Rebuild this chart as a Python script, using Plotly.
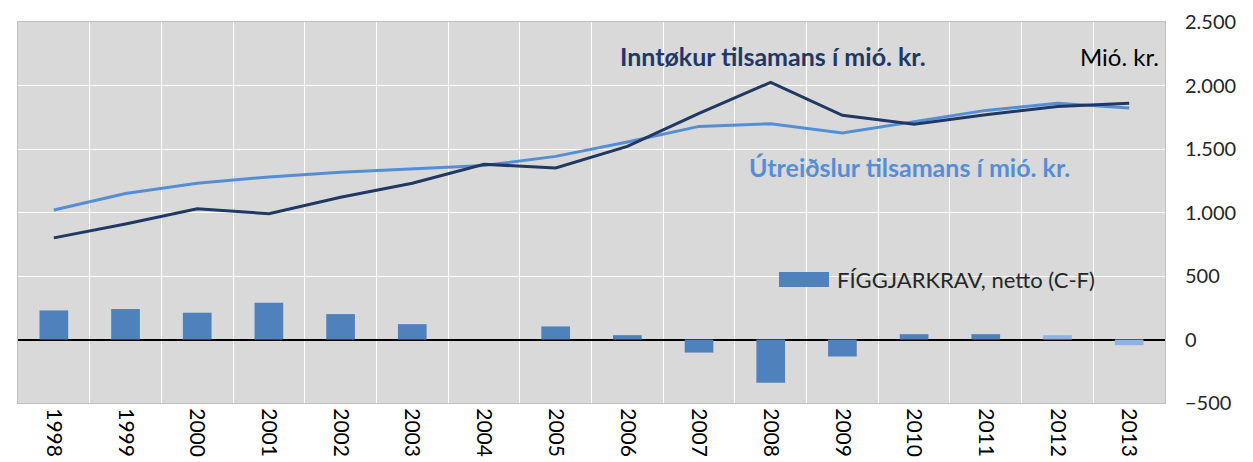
import plotly.graph_objects as go

years = [str(y) for y in range(1998, 2014)]
inntokur = [800, 910, 1030, 990, 1120, 1230, 1380, 1350, 1520, 1780, 2025, 1765, 1695, 1770, 1835, 1860]
utreidslur = [1020, 1150, 1230, 1280, 1317, 1343, 1370, 1442, 1555, 1678, 1699, 1626, 1717, 1804, 1860, 1822]
figgjarkrav = [229, 240, 211, 290, 200, 121, 0, 103, 34, -103, -340, -134, 42, 42, 34, -45]
bar_colors = ["#4f81bd"] * 14 + ["#8db3e2"] * 2

FONT = "Lato"
DARK = "#1f3864"
LIGHT = "#558ed5"

fig = go.Figure()
fig.add_trace(go.Bar(x=years, y=figgjarkrav, marker=dict(color=bar_colors, line=dict(width=0)),
                     width=0.4, showlegend=False, name="FÍGGJARKRAV, netto (C-F)"))
fig.add_trace(go.Scatter(x=years, y=utreidslur, mode="lines", line=dict(color=LIGHT, width=3),
                         showlegend=False, name="Útreiðslur tilsamans í mió. kr."))
fig.add_trace(go.Scatter(x=years, y=inntokur, mode="lines", line=dict(color=DARK, width=3),
                         showlegend=False, name="Inntøkur tilsamans í mió. kr."))

fig.update_layout(
    width=1253, height=462,
    margin=dict(l=18, r=88, t=22, b=59),
    paper_bgcolor="white", plot_bgcolor="#d9d9d9",
    separators=",.",
    font=dict(family=FONT, color="#404040"),
    xaxis=dict(type="category", tickson="boundaries", showgrid=True, gridcolor="white", gridwidth=1.2,
               ticks="", tickangle=90, tickfont=dict(size=21, color="#000000"), automargin=False,
               showline=True, linecolor="#c0c0c0", mirror=True, range=[-0.5, 15.5]),
    yaxis=dict(side="right", range=[-500, 2500], dtick=500, tickformat=",d", showgrid=True,
               gridcolor="white", gridwidth=1.2, zeroline=True, zerolinecolor="#000000", zerolinewidth=1.5,
               ticks="outside", ticklen=15, tickcolor="rgba(0,0,0,0)", tickfont=dict(size=20, color="#262626"),
               automargin=False, showline=True, linecolor="#c0c0c0", mirror=True),
    bargap=0.6,
)

fig.add_annotation(xref="paper", yref="paper", x=(773 - 18) / 1147, y=(403 - 56) / 381,
                   text="<b>Inntøkur tilsamans í mió. kr.</b>", showarrow=False,
                   font=dict(size=25, color=DARK, family=FONT), xanchor="center", yanchor="middle")
fig.add_annotation(xref="paper", yref="paper", x=(909 - 18) / 1147, y=(403 - 167) / 381,
                   text="<b>Útreiðslur tilsamans í mió. kr.</b>", showarrow=False,
                   font=dict(size=25, color=LIGHT, family=FONT), xanchor="center", yanchor="middle")
fig.add_annotation(xref="paper", yref="paper", x=(1161 - 18) / 1147, y=(403 - 56) / 381,
                   text="Mió. kr.", showarrow=False,
                   font=dict(size=24, color="#000000", family=FONT), xanchor="right", yanchor="middle")
# legend
fig.add_shape(type="rect", xref="paper", yref="paper",
              x0=(779 - 18) / 1147, x1=(829 - 18) / 1147, y0=(403 - 287) / 381, y1=(403 - 272) / 381,
              fillcolor="#4f81bd", line=dict(width=0))
fig.add_annotation(xref="paper", yref="paper", x=(835 - 18) / 1147, y=(403 - 279) / 381,
                   text="FÍGGJARKRAV, netto (C-F)", showarrow=False,
                   font=dict(size=22, color="#262626", family=FONT), xanchor="left", yanchor="middle")

fig.write_html("out.html", config={"displayModeBar": False},
               post_script="document.body.style.margin='0';document.body.style.overflow='hidden';")
